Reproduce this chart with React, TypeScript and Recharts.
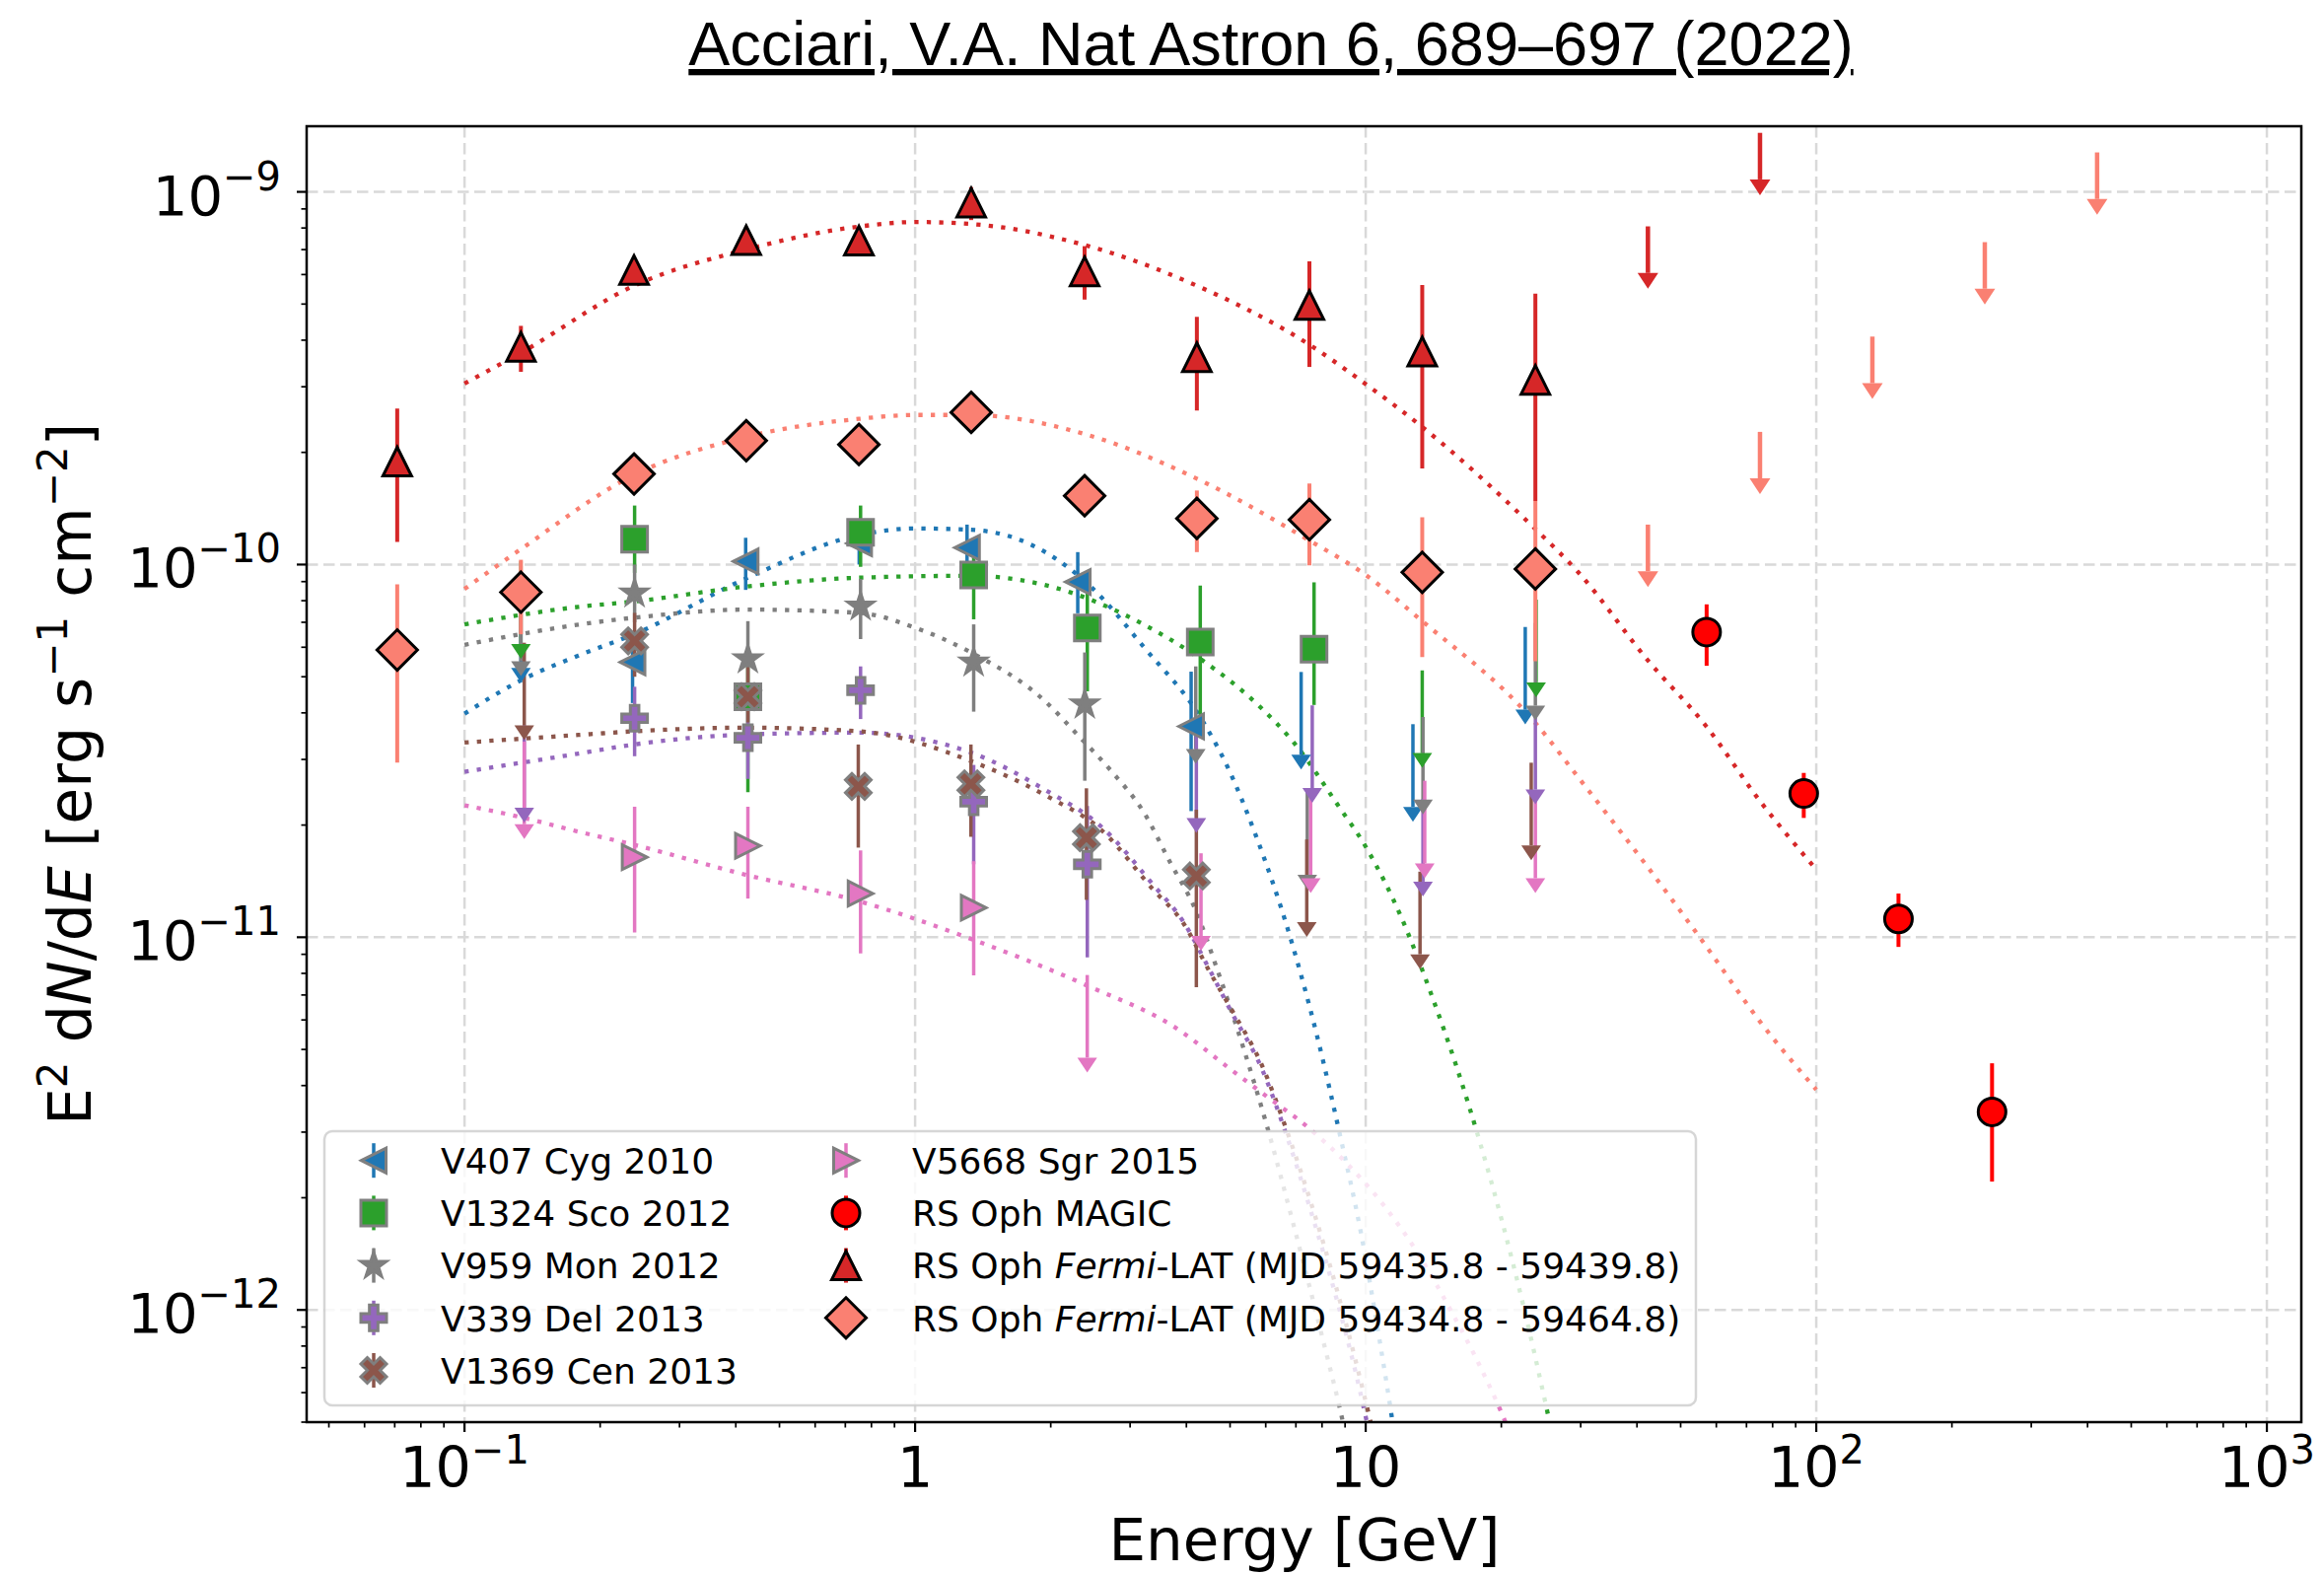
import React from 'react';
import { ComposedChart, XAxis, YAxis, CartesianGrid, Scatter, Line, ErrorBar } from 'recharts';

// ---------------- layout ----------------
const W = 2357;
const H = 1597;
const PLOT = { left: 311, top: 128, right: 2334, bottom: 1442 };
const X_AXIS_H = 100;
const X_DOMAIN: [number, number] = [0.04463, 1192.5];
const Y_DOMAIN: [number, number] = [5e-13, 1.5e-9];

// ---------------- ticks ----------------
const X_TICKS = [0.05, 0.06, 0.07, 0.08, 0.09, 0.1, 0.2, 0.3, 0.4, 0.5, 0.6, 0.7, 0.8, 0.9, 1, 2, 3, 4, 5, 6, 7, 8, 9, 10, 20, 30, 40, 50, 60, 70, 80, 90, 100, 200, 300, 400, 500, 600, 700, 800, 900, 1000];
const X_MAJOR = [0.1, 1, 10, 100, 1000];
const X_TICK_LABELS: [string, string][] = [['10', '−1'], ['1', ''], ['10', ''], ['10', '2'], ['10', '3']];
const Y_TICKS = [5e-13, 6e-13, 7e-13, 8e-13, 9e-13, 1e-12, 2e-12, 3e-12, 4e-12, 5e-12, 6e-12, 7e-12, 8e-12, 9e-12, 1e-11, 2e-11, 3e-11, 4e-11, 5e-11, 6e-11, 7e-11, 8e-11, 9e-11, 1e-10, 2e-10, 3e-10, 4e-10, 5e-10, 6e-10, 7e-10, 8e-10, 9e-10, 1e-9];
const Y_MAJOR = [1e-12, 1e-11, 1e-10, 1e-9];
const Y_TICK_LABELS: [string, string][] = [['10', '−12'], ['10', '−11'], ['10', '−10'], ['10', '−9']];

// ---------------- RS Oph Fermi-LAT (MJD 59435.8 - 59439.8) ----------------
const fShortE = [0.0709, 0.1334, 0.2378, 0.4219, 0.7503, 1.332, 2.378, 4.22, 7.5, 13.35, 23.8];
const fShortF = [1.89e-10, 3.84e-10, 6.17e-10, 7.42e-10, 7.40e-10, 9.36e-10, 6.12e-10, 3.60e-10, 4.97e-10, 3.73e-10, 3.13e-10];
const fShortLo = [1.15e-10, 3.29e-10, 5.90e-10, 7.10e-10, 7.10e-10, 8.40e-10, 5.14e-10, 2.59e-10, 3.39e-10, 1.81e-10, 1.48e-10];
const fShortHi = [2.62e-10, 4.37e-10, 6.45e-10, 7.75e-10, 7.70e-10, 1.03e-9, 7.15e-10, 4.62e-10, 6.51e-10, 5.62e-10, 5.33e-10];
const fShortUlE = [42.3, 75.0];
const fShortUl = [8.08e-10, 1.44e-9];
const fShortModelE = [0.1, 0.1334, 0.2378, 0.4219, 0.75, 1.0, 1.33, 2.378, 4.22, 7.5, 10, 13.35, 23.8, 29.6, 42.3, 57, 75, 100];
const fShortModelF = [3.06e-10, 3.7e-10, 5.6e-10, 7.0e-10, 8.07e-10, 8.3e-10, 8.2e-10, 7.2e-10, 5.6e-10, 3.89e-10, 3.05e-10, 2.34e-10, 1.245e-10, 9.55e-11, 5.53e-11, 3.68e-11, 2.32e-11, 1.52e-11];

// ---------------- RS Oph Fermi-LAT (MJD 59434.8 - 59464.8) ----------------
const fLongE = [0.0709, 0.1334, 0.2378, 0.4219, 0.7503, 1.332, 2.378, 4.22, 7.5, 13.35, 23.8];
const fLongF = [5.90e-11, 8.43e-11, 1.75e-10, 2.15e-10, 2.10e-10, 2.56e-10, 1.53e-10, 1.33e-10, 1.32e-10, 9.53e-11, 9.73e-11];
const fLongLo = [2.94e-11, 6.50e-11, 1.62e-10, 2.00e-10, 1.95e-10, 2.40e-10, 1.45e-10, 1.08e-10, 9.95e-11, 5.65e-11, 5.50e-11];
const fLongHi = [8.85e-11, 1.03e-10, 1.88e-10, 2.30e-10, 2.25e-10, 2.72e-10, 1.62e-10, 1.58e-10, 1.65e-10, 1.34e-10, 1.48e-10];
const fLongUlE = [42.3, 75.0, 133.2, 236.6, 420];
const fLongUl = [1.28e-10, 2.27e-10, 4.09e-10, 7.33e-10, 1.276e-9];
const fLongModelE = [0.1, 0.1334, 0.2378, 0.4219, 0.75, 1.0, 1.33, 2.378, 4.22, 7.5, 10, 13.35, 23.8, 29.6, 42.3, 57, 75, 100];
const fLongModelF = [8.6e-11, 1.10e-10, 1.74e-10, 2.20e-10, 2.46e-10, 2.52e-10, 2.52e-10, 2.24e-10, 1.70e-10, 1.16e-10, 9.38e-11, 7.05e-11, 3.76e-11, 2.69e-11, 1.54e-11, 9.45e-12, 5.94e-12, 3.9e-12];

// ---------------- RS Oph MAGIC ----------------
const magicE = [57.1, 93.8, 152.2, 245.5];
const magicF = [6.59e-11, 2.43e-11, 1.12e-11, 3.40e-12];
const magicLo = [5.35e-11, 2.09e-11, 9.42e-12, 2.21e-12];
const magicHi = [7.82e-11, 2.76e-11, 1.31e-11, 4.59e-12];

// ---------------- V407 Cyg 2010 ----------------
const v407E = [0.236, 0.4207, 0.7514, 1.304, 2.296, 4.098];
const v407F = [5.47e-11, 1.02e-10, 1.14e-10, 1.11e-10, 8.98e-11, 3.68e-11];
const v407Lo = [4.25e-11, 8.55e-11, 1.0e-10, 9.2e-11, 7.4e-11, 2.18e-11];
const v407Hi = [6.6e-11, 1.18e-10, 1.27e-10, 1.28e-10, 1.08e-10, 5.16e-11];
const v407UlE = [0.1334, 7.19, 12.73, 22.6];
const v407Ul = [8.8e-11, 5.15e-11, 3.73e-11, 6.8e-11];
const v407ModelE = [0.1, 0.1334, 0.179, 0.2378, 0.4219, 0.75, 1.0, 1.33, 1.97, 2.46, 3.22, 4.35, 4.98, 5.69, 6.8, 7.81, 8.74, 9.77, 10.7, 11.5, 12.3];
const v407ModelF = [3.98e-11, 4.89e-11, 5.7e-11, 6.5e-11, 9.18e-11, 1.2e-10, 1.25e-10, 1.24e-10, 1.07e-10, 8.7e-11, 6.0e-11, 3.8e-11, 2.8e-11, 1.89e-11, 1.0e-11, 5.4e-12, 3.0e-12, 1.6e-12, 8.5e-13, 4.9e-13, 2.7e-13];

// ---------------- V1324 Sco 2012 ----------------
const v1324E = [0.2385, 0.4255, 0.7568, 1.349, 2.411, 4.294, 7.68];
const v1324F = [1.17e-10, 4.42e-11, 1.22e-10, 9.37e-11, 6.76e-11, 6.2e-11, 5.93e-11];
const v1324Lo = [9.5e-11, 2.45e-11, 9.86e-11, 7.13e-11, 4.57e-11, 3.8e-11, 4.2e-11];
const v1324Hi = [1.44e-10, 5.6e-11, 1.44e-10, 1.1e-10, 8.69e-11, 8.78e-11, 8.96e-11];
const v1324UlE = [0.1334, 13.35, 23.89];
const v1324Ul = [1.02e-10, 5.2e-11, 8.05e-11];
const v1324ModelE = [0.1, 0.179, 0.2378, 0.4219, 0.75, 1.33, 1.95, 3.22, 4.28, 5.89, 6.94, 8.68, 10, 12, 14, 16, 18, 20, 22.5, 25, 27];
const v1324ModelF = [6.91e-11, 7.7e-11, 7.96e-11, 8.73e-11, 9.22e-11, 9.33e-11, 8.8e-11, 6.9e-11, 5.6e-11, 4.1e-11, 3.32e-11, 2.26e-11, 1.75e-11, 1.13e-11, 7.0e-12, 4.4e-12, 2.77e-12, 1.76e-12, 1.0e-12, 5.7e-13, 3.7e-13];

// ---------------- V959 Mon 2012 ----------------
const v959E = [0.2385, 0.4255, 0.7568, 1.349, 2.38];
const v959F = [8.38e-11, 5.58e-11, 7.73e-11, 5.47e-11, 4.22e-11];
const v959Lo = [7.0e-11, 4.8e-11, 6.31e-11, 4.03e-11, 2.63e-11];
const v959Hi = [1.0e-10, 7.05e-11, 9.15e-11, 6.91e-11, 5.81e-11];
const v959UlE = [0.1334, 4.196, 7.42, 13.4, 23.8];
const v959Ul = [9.17e-11, 5.33e-11, 2.45e-11, 3.9e-11, 6.97e-11];
const v959ModelE = [0.1, 0.179, 0.2378, 0.4219, 0.75, 1.0, 1.33, 1.95, 2.3, 2.72, 3.22, 3.68, 4.21, 4.65, 5.33, 6.0, 7.0, 8.0, 9.0, 10];
const v959ModelF = [6.09e-11, 6.9e-11, 7.2e-11, 7.57e-11, 7.42e-11, 6.77e-11, 5.81e-11, 4.28e-11, 3.48e-11, 2.8e-11, 2.16e-11, 1.59e-11, 1.17e-11, 8.4e-12, 5.13e-12, 3.2e-12, 1.6e-12, 8.5e-13, 4.7e-13, 2.4e-13];

// ---------------- V339 Del 2013 ----------------
const v339E = [0.2385, 0.4255, 0.7568, 1.349, 2.411];
const v339F = [3.87e-11, 3.43e-11, 4.6e-11, 2.31e-11, 1.57e-11];
const v339Lo = [3.06e-11, 2.66e-11, 3.85e-11, 1.57e-11, 8.83e-12];
const v339Hi = [4.7e-11, 4.3e-11, 5.33e-11, 2.9e-11, 2.25e-11];
const v339UlE = [0.1357, 4.209, 7.61, 13.4, 23.8];
const v339Ul = [3.71e-11, 3.48e-11, 4.19e-11, 2.35e-11, 4.15e-11];
const v339ModelE = [0.1, 0.179, 0.2378, 0.4219, 0.75, 1.33, 1.95, 2.59, 3.38, 3.94, 4.5, 5.0, 5.9, 6.7, 7.6, 8.6, 9.5, 10.3, 11.2];
const v339ModelF = [2.78e-11, 3.11e-11, 3.29e-11, 3.5e-11, 3.54e-11, 3.13e-11, 2.48e-11, 1.98e-11, 1.38e-11, 1.1e-11, 8.2e-12, 6.4e-12, 4.4e-12, 2.9e-12, 1.8e-12, 1.08e-12, 6.8e-13, 4.4e-13, 2.8e-13];

// ---------------- V1369 Cen 2013 ----------------
const v1369E = [0.2385, 0.4255, 0.748, 1.33, 2.40, 4.209];
const v1369F = [6.24e-11, 4.42e-11, 2.54e-11, 2.58e-11, 1.85e-11, 1.46e-11];
const v1369Lo = [5.0e-11, 3.77e-11, 1.74e-11, 1.86e-11, 1.26e-11, 7.34e-12];
const v1369Hi = [7.42e-11, 5.3e-11, 3.29e-11, 3.29e-11, 2.51e-11, 2.2e-11];
const v1369UlE = [0.1357, 7.4, 13.2, 23.3];
const v1369Ul = [6.17e-11, 1.83e-11, 1.5e-11, 2.94e-11];
const v1369ModelE = [0.1, 0.179, 0.2378, 0.4219, 0.75, 1.33, 1.95, 2.59, 3.38, 3.94, 4.5, 5.0, 5.9, 6.7, 7.6, 8.6, 9.5, 10.3, 11.2];
const v1369ModelF = [3.33e-11, 3.49e-11, 3.57e-11, 3.65e-11, 3.57e-11, 2.97e-11, 2.4e-11, 1.94e-11, 1.34e-11, 1.09e-11, 8.1e-12, 6.5e-12, 4.5e-12, 3.0e-12, 1.9e-12, 1.15e-12, 7.3e-13, 4.9e-13, 3.2e-13];

// ---------------- V5668 Sgr 2015 ----------------
const v5668E = [0.2385, 0.4255, 0.7568, 1.349];
const v5668F = [1.64e-11, 1.76e-11, 1.31e-11, 1.2e-11];
const v5668Lo = [1.03e-11, 1.27e-11, 9.05e-12, 7.9e-12];
const v5668Hi = [2.24e-11, 2.24e-11, 1.71e-11, 1.6e-11];
const v5668UlE = [0.1357, 2.41, 4.31, 7.55, 13.52, 23.8];
const v5668Ul = [3.35e-11, 7.92e-12, 1.68e-11, 2.4e-11, 2.63e-11, 2.4e-11];
const v5668ModelE = [0.1, 0.1334, 0.179, 0.2378, 0.4219, 0.75, 1.33, 2.42, 3.8, 4.98, 5.96, 7.47, 9, 11, 13, 15.5, 18, 21, 24];
const v5668ModelF = [2.26e-11, 2.1e-11, 1.92e-11, 1.77e-11, 1.47e-11, 1.25e-11, 9.9e-12, 7.4e-12, 5.7e-12, 4.45e-12, 3.78e-12, 3.08e-12, 2.5e-12, 1.9e-12, 1.43e-12, 9.9e-13, 7.0e-13, 4.6e-13, 2.9e-13];

// ---------------- styling ----------------
const NOVA_UL_FRAC = 0.6; // arrow line ends at 60% of the limit (yerr = 0.4 y)
const FERMI_UL_FRAC = 0.75;
const NOVA_EDGE = '#7f7f7f';
const DOT = '4.3 8.3';

type Kind = 'o' | '^' | '<' | '>' | 's' | 'D' | '*' | 'P' | 'X';
const SIZE: Record<Kind, number> = { o: 14, '^': 29, '<': 25, '>': 25, s: 26, D: 20.5, '*': 13.5, P: 26, X: 26 };

type Pt = { x: number; y: number; err: [number, number] };
const points = (E: number[], F: number[], lo: number[], hi: number[]): Pt[] =>
  E.map((e, i) => ({ x: e, y: F[i], err: [F[i] - lo[i], hi[i] - F[i]] }));
const limits = (E: number[], U: number[], frac: number): Pt[] =>
  E.map((e, i) => ({ x: e, y: U[i] * frac, err: [0, U[i] * (1 - frac)] }));
const curve = (E: number[], F: number[]) => E.map((e, i) => ({ x: e, y: F[i] }));

function markerPath(kind: Kind, cx: number, cy: number): string {
  const s = SIZE[kind];
  const h = s / 2;
  let pts: [number, number][] = [];
  switch (kind) {
    case '^': pts = [[0, -h], [-h, h], [h, h]]; break;
    case '<': pts = [[-h, 0], [h, -h], [h, h]]; break;
    case '>': pts = [[h, 0], [-h, -h], [-h, h]]; break;
    case 's': pts = [[-h, -h], [h, -h], [h, h], [-h, h]]; break;
    case 'D': pts = [[0, -s], [s, 0], [0, s], [-s, 0]]; break;
    case '*': {
      for (let i = 0; i < 10; i++) {
        const a = -Math.PI / 2 + (i * Math.PI) / 5;
        const r = i % 2 === 0 ? s : s * 0.381966;
        pts.push([r * Math.cos(a), r * Math.sin(a)]);
      }
      break;
    }
    case 'P': {
      const a = s / 6, b = s / 2;
      pts = [[-a, -b], [a, -b], [a, -a], [b, -a], [b, a], [a, a], [a, b], [-a, b], [-a, a], [-b, a], [-b, -a], [-a, -a]];
      break;
    }
    case 'X': {
      const q = s / 4, b = s / 2;
      pts = [[-q, -b], [0, -q], [q, -b], [b, -q], [q, 0], [b, q], [q, b], [0, q], [-q, b], [-b, q], [-q, 0], [-b, -q]];
      break;
    }
    default: break;
  }
  return 'M' + pts.map(([x, y]) => `${cx + x},${cy + y}`).join('L') + 'Z';
}

function Marker({ kind, cx, cy, fill, stroke, sw }: { kind: Kind; cx: number; cy: number; fill: string; stroke: string; sw: number }) {
  if (kind === 'o') return <circle cx={cx} cy={cy} r={SIZE.o} fill={fill} stroke={stroke} strokeWidth={sw} />;
  return <path d={markerPath(kind, cx, cy)} fill={fill} stroke={stroke} strokeWidth={sw} strokeLinejoin="miter" />;
}

const caretShape = (color: string, w: number, h: number) => (p: any) => (
  <path d={`M${p.cx - w / 2},${p.cy}L${p.cx + w / 2},${p.cy}L${p.cx},${p.cy + h}Z`} fill={color} />
);

type Series = {
  name: string;
  legend: React.ReactNode;
  color: string;
  kind: Kind;
  edge: string;
  pts: Pt[];
  uls: Pt[];
  model: { x: number; y: number }[] | null;
  errW: number;
  ulW: number;
  caret: [number, number];
};

const NOVAE: Series[] = [
  { name: 'v407', legend: 'V407 Cyg 2010', color: '#1f77b4', kind: '<', edge: NOVA_EDGE, pts: points(v407E, v407F, v407Lo, v407Hi), uls: limits(v407UlE, v407Ul, NOVA_UL_FRAC), model: curve(v407ModelE, v407ModelF), errW: 3.5, ulW: 3.5, caret: [20, 15] },
  { name: 'v1324', legend: 'V1324 Sco 2012', color: '#2ca02c', kind: 's', edge: NOVA_EDGE, pts: points(v1324E, v1324F, v1324Lo, v1324Hi), uls: limits(v1324UlE, v1324Ul, NOVA_UL_FRAC), model: curve(v1324ModelE, v1324ModelF), errW: 3.5, ulW: 3.5, caret: [20, 15] },
  { name: 'v959', legend: 'V959 Mon 2012', color: '#7f7f7f', kind: '*', edge: NOVA_EDGE, pts: points(v959E, v959F, v959Lo, v959Hi), uls: limits(v959UlE, v959Ul, NOVA_UL_FRAC), model: curve(v959ModelE, v959ModelF), errW: 3.5, ulW: 3.5, caret: [20, 15] },
  { name: 'v339', legend: 'V339 Del 2013', color: '#9467bd', kind: 'P', edge: NOVA_EDGE, pts: points(v339E, v339F, v339Lo, v339Hi), uls: limits(v339UlE, v339Ul, NOVA_UL_FRAC), model: curve(v339ModelE, v339ModelF), errW: 3.5, ulW: 3.5, caret: [20, 15] },
  { name: 'v1369', legend: 'V1369 Cen 2013', color: '#8c564b', kind: 'X', edge: NOVA_EDGE, pts: points(v1369E, v1369F, v1369Lo, v1369Hi), uls: limits(v1369UlE, v1369Ul, NOVA_UL_FRAC), model: curve(v1369ModelE, v1369ModelF), errW: 3.5, ulW: 3.5, caret: [20, 15] },
  { name: 'v5668', legend: 'V5668 Sgr 2015', color: '#e377c2', kind: '>', edge: NOVA_EDGE, pts: points(v5668E, v5668F, v5668Lo, v5668Hi), uls: limits(v5668UlE, v5668Ul, NOVA_UL_FRAC), model: curve(v5668ModelE, v5668ModelF), errW: 3.5, ulW: 3.5, caret: [20, 15] },
];

const RSOPH: Series[] = [
  { name: 'magic', legend: 'RS Oph MAGIC', color: '#ff0000', kind: 'o', edge: '#000', pts: points(magicE, magicF, magicLo, magicHi), uls: [], model: null, errW: 4, ulW: 4, caret: [21, 16] },
  {
    name: 'fshort',
    legend: (<>RS Oph <tspan fontStyle="italic">Fermi</tspan>-LAT (MJD 59435.8 - 59439.8)</>),
    color: '#d62728', kind: '^', edge: '#000', pts: points(fShortE, fShortF, fShortLo, fShortHi), uls: limits(fShortUlE, fShortUl, FERMI_UL_FRAC), model: curve(fShortModelE, fShortModelF), errW: 4, ulW: 4.5, caret: [21, 16],
  },
  {
    name: 'flong',
    legend: (<>RS Oph <tspan fontStyle="italic">Fermi</tspan>-LAT (MJD 59434.8 - 59464.8)</>),
    color: '#fa8072', kind: 'D', edge: '#000', pts: points(fLongE, fLongF, fLongLo, fLongHi), uls: limits(fLongUlE, fLongUl, FERMI_UL_FRAC), model: curve(fLongModelE, fLongModelF), errW: 4, ulW: 4.5, caret: [21, 16],
  },
];

const ALL = [...NOVAE, ...RSOPH];

// ---------------- ticks ----------------
const near = (a: number, b: number) => Math.abs(Math.log10(a) - Math.log10(b)) < 1e-6;

function XTick(props: any) {
  const { x, y, payload } = props;
  const i = X_MAJOR.findIndex((m) => near(m, payload.value));
  const major = i >= 0;
  return (
    <g>
      <line x1={x} x2={x} y1={y} y2={y + (major ? 10 : 5.5)} stroke="#000" strokeWidth={major ? 2.2 : 1.7} />
      {major && (
        <text x={x} y={y + 66} textAnchor="middle" fontFamily="DejaVu Sans" fontSize={57} fill="#000">
          {X_TICK_LABELS[i][0]}
          {X_TICK_LABELS[i][1] ? <tspan dy={-24} fontSize={40}>{X_TICK_LABELS[i][1]}</tspan> : null}
        </text>
      )}
    </g>
  );
}

function YTick(props: any) {
  const { x, y, payload } = props;
  const i = Y_MAJOR.findIndex((m) => near(m, payload.value));
  const major = i >= 0;
  return (
    <g>
      <line x1={x - (major ? 10 : 5.5)} x2={x} y1={y} y2={y} stroke="#000" strokeWidth={major ? 2.2 : 1.7} />
      {major && (
        <text x={x - 26} y={y + 23} textAnchor="end" fontFamily="DejaVu Sans" fontSize={56} fill="#000">
          {Y_TICK_LABELS[i][0]}
          <tspan dy={-25} fontSize={40}>{Y_TICK_LABELS[i][1]}</tspan>
        </text>
      )}
    </g>
  );
}

// ---------------- legend ----------------
const LEG = { x: 329, y: 1147, w: 1391, h: 278, m1: 379, t1: 447, m2: 858, t2: 925, row0: 1176.7, step: 53.2 };

function LegendBox() {
  const rows = ALL.map((s, idx) => {
    const col = idx < 5 ? 0 : 1;
    const r = idx < 5 ? idx : idx - 5;
    const mx = col === 0 ? LEG.m1 : LEG.m2;
    const tx = col === 0 ? LEG.t1 : LEG.t2;
    const cy = LEG.row0 + r * LEG.step;
    return (
      <g key={s.name}>
        <line x1={mx} x2={mx} y1={cy - 17.5} y2={cy + 17.5} stroke={s.color} strokeWidth={s.errW} />
        <Marker kind={s.kind} cx={mx} cy={cy} fill={s.color} stroke={s.edge} sw={3} />
        <text x={tx} y={cy + 13.3} fontFamily="DejaVu Sans" fontSize={36} fill="#000">{s.legend}</text>
      </g>
    );
  });
  return (
    <g>
      <rect x={LEG.x} y={LEG.y} width={LEG.w} height={LEG.h} rx={8} ry={8} fill="#fff" fillOpacity={0.8} stroke="#cccccc" strokeOpacity={0.8} strokeWidth={2.5} />
      {rows}
    </g>
  );
}

export default function App() {
  return (
    <div style={{ position: 'fixed', left: 0, top: 0, width: W, height: H, background: '#fff', overflow: 'hidden' }}>
      <ComposedChart
        width={W}
        height={H}
        margin={{ top: PLOT.top, right: W - PLOT.right, bottom: H - PLOT.bottom - X_AXIS_H, left: 0 }}
      >
        <CartesianGrid
          horizontalValues={Y_MAJOR}
          verticalValues={X_MAJOR}
          stroke="#d9d9d9"
          strokeWidth={2.5}
          strokeDasharray="11.5 5.5"
        />
        <XAxis
          type="number"
          dataKey="x"
          scale="log"
          domain={X_DOMAIN}
          allowDataOverflow
          ticks={X_TICKS}
          interval={0}
          height={X_AXIS_H}
          axisLine={false}
          tickLine={false}
          tickSize={0}
          tickMargin={0}
          tick={<XTick />}
        />
        <YAxis
          type="number"
          dataKey="y"
          scale="log"
          domain={Y_DOMAIN}
          allowDataOverflow
          ticks={Y_TICKS}
          interval={0}
          width={PLOT.left}
          axisLine={false}
          tickLine={false}
          tickSize={0}
          tickMargin={0}
          tick={<YTick />}
        />
        {ALL.filter((s) => s.model).map((s) => (
          <Line
            key={s.name + '-model'}
            data={s.model as any}
            dataKey="y"
            type="monotone"
            stroke={s.color}
            strokeWidth={4.3}
            strokeDasharray={DOT}
            dot={false}
            activeDot={false}
            isAnimationActive={false}
          />
        ))}
        {ALL.flatMap((s) => [
          s.uls.length ? (
            <Scatter
              key={s.name + '-ul'}
              data={s.uls}
              dataKey="y"
              isAnimationActive={false}
              shape={caretShape(s.color, s.caret[0], s.caret[1])}
            >
              <ErrorBar dataKey="err" direction="y" width={0} stroke={s.color} strokeWidth={s.ulW} isAnimationActive={false} />
            </Scatter>
          ) : null,
          <Scatter
            key={s.name + '-pts'}
            data={s.pts}
            dataKey="y"
            isAnimationActive={false}
            shape={(p: any) => <Marker kind={s.kind} cx={p.cx} cy={p.cy} fill={s.color} stroke={s.edge} sw={3} />}
          >
            <ErrorBar dataKey="err" direction="y" width={0} stroke={s.color} strokeWidth={s.errW} isAnimationActive={false} />
          </Scatter>,
        ])}
      </ComposedChart>
      <svg width={W} height={H} style={{ position: 'absolute', left: 0, top: 0, pointerEvents: 'none' }}>
        <rect
          x={PLOT.left}
          y={PLOT.top}
          width={PLOT.right - PLOT.left}
          height={PLOT.bottom - PLOT.top}
          fill="none"
          stroke="#000"
          strokeWidth={2.5}
        />
        <text
          x={1289}
          y={66}
          textAnchor="middle"
          fontFamily="Liberation Sans"
          fontSize={63}
          fill="#000"
          textDecoration="underline"
          style={{ textDecorationSkipInk: 'none' } as any}
        >
          Acciari, V.A. Nat Astron 6, 689–697 (2022)
        </text>
        <text x={1323} y={1582} textAnchor="middle" fontFamily="DejaVu Sans" fontSize={59.5} fill="#000">
          Energy [GeV]
        </text>
        <text transform="translate(92, 785) rotate(-90)" textAnchor="middle" fontFamily="DejaVu Sans" fontSize={60} fill="#000">
          E<tspan dy={-24} fontSize={42}>2</tspan>
          <tspan dy={24}> d</tspan>
          <tspan fontStyle="italic">N</tspan>
          <tspan>/d</tspan>
          <tspan fontStyle="italic">E</tspan>
          <tspan> [erg s</tspan>
          <tspan dy={-24} fontSize={42}>−1</tspan>
          <tspan dy={24}> cm</tspan>
          <tspan dy={-24} fontSize={42}>−2</tspan>
          <tspan dy={24}>]</tspan>
        </text>
        <LegendBox />
      </svg>
    </div>
  );
}
